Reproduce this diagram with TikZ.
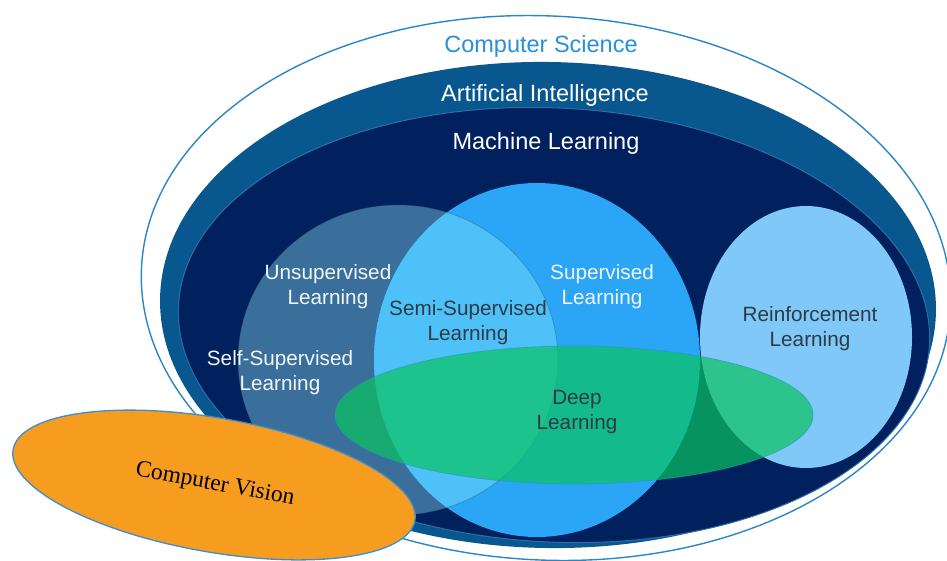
\documentclass[tikz,border=0pt]{standalone}
\usepackage{fontspec}
\setmainfont{Liberation Sans}
\newfontfamily\cvfont{Liberation Serif}
\definecolor{csline}{HTML}{2B86C6}
\definecolor{cstext}{HTML}{2A8FDA}
\definecolor{aifill}{HTML}{08578E}
\definecolor{mlfill}{HTML}{00205E}
\definecolor{mledge}{HTML}{2F6DA6}
\definecolor{unsupfill}{HTML}{3A6F9C}
\definecolor{semifill}{HTML}{4FC1F9}
\definecolor{supfill}{HTML}{2BA5F6}
\definecolor{reinffill}{HTML}{80C8F8}
\definecolor{dlfill}{HTML}{0AC360}
\definecolor{dledge}{HTML}{2A96B8}
\definecolor{cvfill}{HTML}{F69C1E}
\definecolor{cvedge}{HTML}{3B8ED2}
\definecolor{darktext}{HTML}{2E3A46}
\definecolor{lighttext}{HTML}{F2F6FA}
\begin{document}
\begin{tikzpicture}[x=1pt,y=-1pt,
  toplabel/.style={font=\fontsize{23.5}{28}\selectfont, anchor=base, inner sep=0pt},
  innerlabel/.style={font=\fontsize{20.7}{25}\selectfont, align=center, inner sep=0pt},
  whitelbl/.style={innerlabel, text=lighttext},
  darklbl/.style={innerlabel, text=darktext}]
\useasboundingbox (0,0) rectangle (947,560);
\clip (0,0) rectangle (947,560);
% Computer Science
\draw[csline, line width=1.4pt, fill=white, shift={(546,288)}, rotate=-3]
  (0,0) ellipse [x radius=405, y radius=272];
% Artificial Intelligence
\fill[aifill, shift={(548,305)}, rotate=-1]
  (0,0) ellipse [x radius=388, y radius=243];
% Machine Learning
\draw[mledge, line width=1pt, fill=mlfill, shift={(554,325)}, rotate=-3]
  (0,0) ellipse [x radius=376, y radius=217];
% Unsupervised
\fill[unsupfill] (398,360) ellipse [x radius=160, y radius=155];
% Supervised
\fill[supfill] (537,360) ellipse [x radius=163, y radius=177];
% Semi-supervised (overlap)
\begin{scope}
  \clip (398,360) ellipse [x radius=160, y radius=155];
  \fill[semifill] (537,360) ellipse [x radius=163, y radius=177];
\end{scope}
\draw[unsupfill!70!black, opacity=0.35, line width=0.8pt]
  (398,360) ellipse [x radius=160, y radius=155];
% Reinforcement
\fill[reinffill] (806,337) ellipse [x radius=106, y radius=131];
% Deep learning
\fill[dlfill, fill opacity=0.71] (574,415) ellipse [x radius=239, y radius=69];
\draw[dledge, line width=0.8pt, opacity=0.6] (574,415) ellipse [x radius=239, y radius=69];
% Computer Vision
\draw[cvedge, line width=1.3pt, fill=cvfill, shift={(214,485)}, rotate=-10]
  (0,0) ellipse [x radius=204, y radius=67];
% labels
\node[toplabel, text=cstext] (cs) at (541,52) {Computer Science};
\node[toplabel, text=white] (ai) at (545,101) {Artificial Intelligence};
\node[toplabel, text=white] (ml) at (546,149) {Machine Learning};
\node[whitelbl] (unsup) at (328,287) {Unsupervised\\Learning};
\node[whitelbl] (sup) at (602,287) {Supervised\\Learning};
\node[darklbl] (semi) at (468,323) {Semi-Supervised\\Learning};
\node[whitelbl] (self) at (280,373) {Self-Supervised\\Learning};
\node[darklbl] (reinf) at (810,329) {Reinforcement\\Learning};
\node[darklbl] (dl) at (577,412) {Deep\\Learning};
\node[font=\cvfont\fontsize{23.5}{28}\selectfont, rotate=-10.5, inner sep=0pt] (cv) at (215,485) {Computer Vision};
\end{tikzpicture}
\end{document}
